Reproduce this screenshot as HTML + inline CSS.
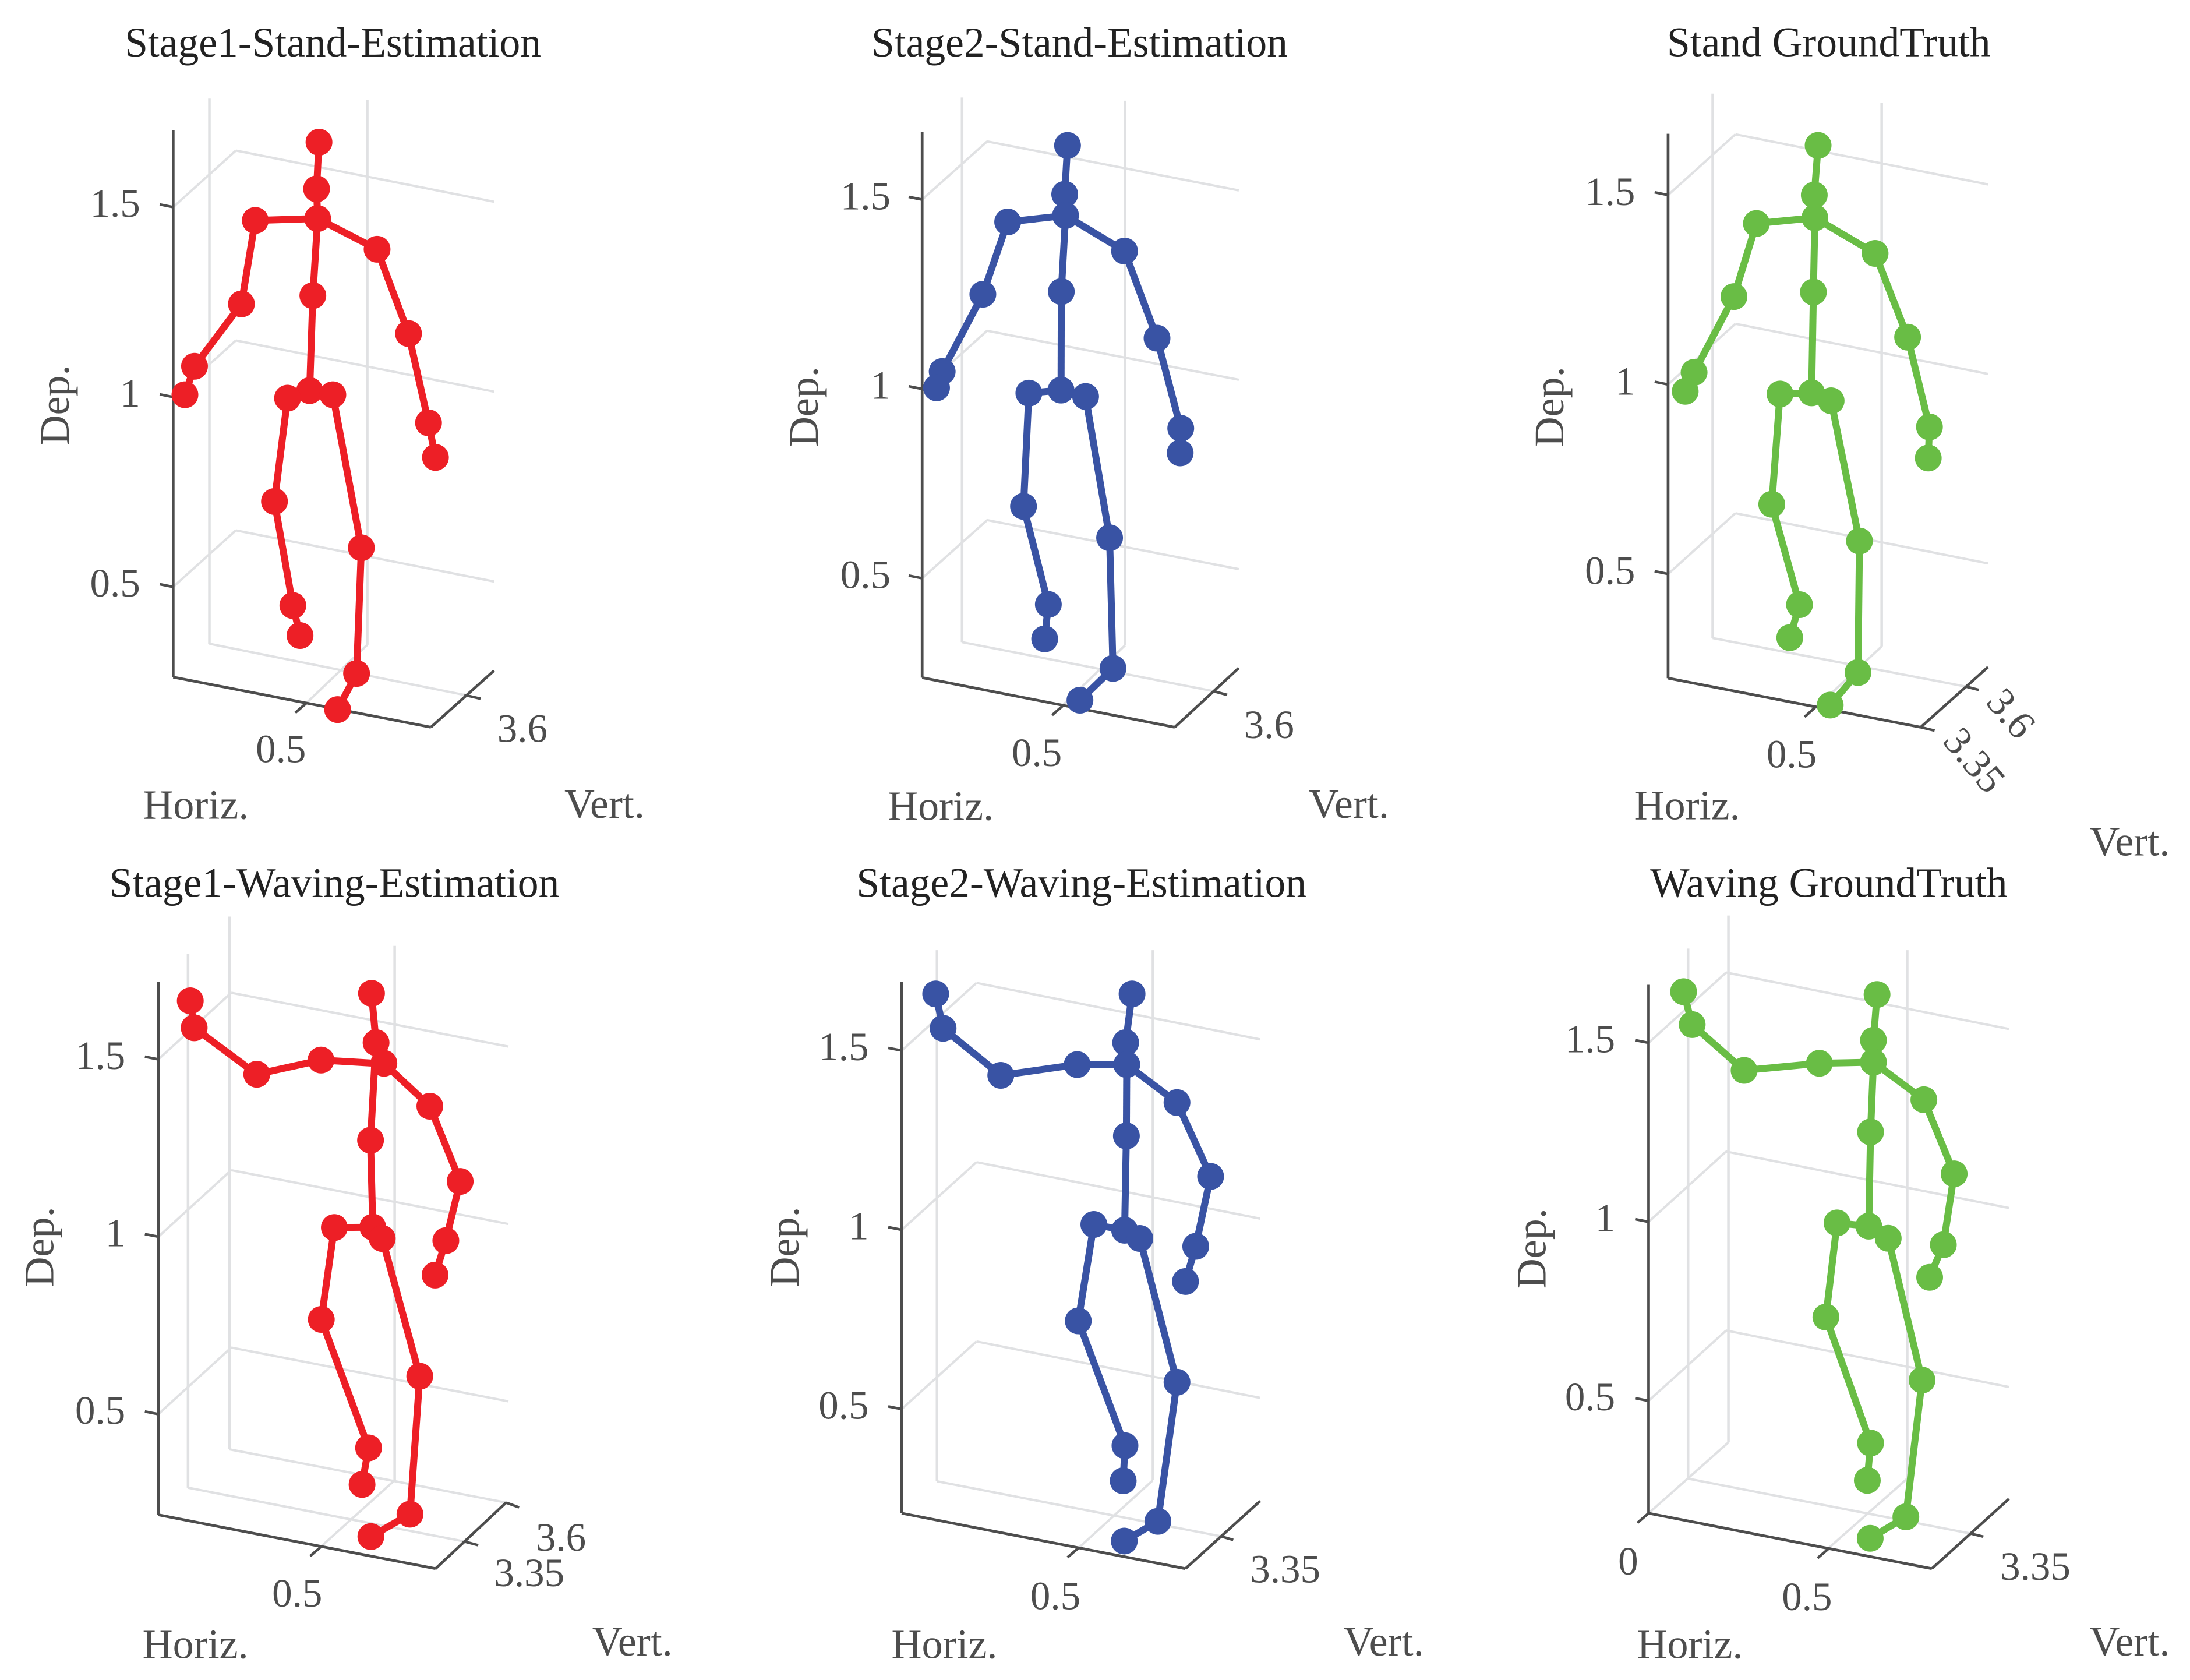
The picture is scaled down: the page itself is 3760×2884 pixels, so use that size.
<!DOCTYPE html>
<html lang="en">
<head>
<meta charset="utf-8">
<title>Skeleton pose estimation comparison</title>
<style>
html,body{margin:0;padding:0;background:#fff;}
svg{display:block;}
text{font-family:"Liberation Serif","Times New Roman",serif;}
</style>
</head>
<body>
<svg id="chart" xmlns="http://www.w3.org/2000/svg" width="3760" height="2884" viewBox="0 0 3760 2884"></svg>
<script>
// Joint order: head, neck, chest, spine, hip, L shoulder, L elbow, L wrist, L hand,
// R shoulder, R elbow, R wrist, R hand, L hip, L knee, L ankle, L foot, R hip, R knee, R ankle, R foot
const stage1StandHoriz = [.547,.538,.542,.524,.512,.308,.256,.080,.044,.765,.883,.958,.984,.429,.380,.449,.476,.599,.706,.688,.617];
const stage1StandDep = [1.671,1.548,1.470,1.267,1.017,1.465,1.245,1.081,1.006,1.389,1.167,.932,.841,.997,.725,.451,.372,1.006,.603,.272,.177];
const stage2StandHoriz = [.515,.505,.508,.493,.492,.303,.215,.071,.051,.717,.832,.916,.914,.378,.359,.447,.434,.579,.664,.676,.559];
const stage2StandDep = [1.643,1.514,1.458,1.257,.997,1.441,1.250,1.046,1.003,1.364,1.134,.896,.831,.989,.690,.431,.340,.980,.607,.262,.178];
const truthStandHoriz = [.508,.495,.497,.492,.486,.299,.223,.088,.058,.701,.811,.885,.881,.379,.351,.445,.412,.552,.648,.643,.549];
const truthStandDep = [1.631,1.500,1.440,1.244,.978,1.425,1.232,1.032,.982,1.346,1.125,.888,.806,.975,.684,.419,.332,.957,.587,.240,.154];
const stage1WavingHoriz = [.654,.668,.692,.651,.658,.499,.302,.110,.098,.833,.926,.882,.849,.540,.500,.645,.625,.687,.802,.772,.652];
const stage1WavingDep = [1.686,1.547,1.489,1.272,1.027,1.498,1.458,1.589,1.665,1.368,1.156,.989,.892,1.026,.767,.405,.302,.995,.607,.218,.155];
const stage2WavingHoriz = [.651,.633,.636,.635,.630,.496,.280,.117,.096,.778,.873,.831,.802,.543,.499,.631,.626,.673,.778,.724,.629];
const stage2WavingDep = [1.658,1.522,1.461,1.262,.999,1.461,1.431,1.562,1.658,1.355,1.149,.954,.856,1.015,.746,.398,.300,.976,.575,.187,.132];
const truthWavingHoriz = [.634,.624,.624,.616,.611,.474,.265,.121,.097,.764,.848,.818,.780,.523,.492,.616,.607,.665,.759,.714,.615];
const truthWavingDep = [1.635,1.507,1.446,1.251,.988,1.443,1.423,1.551,1.643,1.341,1.134,.936,.845,.997,.734,.382,.278,.954,.558,.176,.116];
// Stage1-Waving: left arm and spine meet at a point offset from the chest marker
const stage1WavingTorsoJoinHoriz = [.664];
const stage1WavingTorsoJoinDep = [1.489];
const boneFrom = [0,1,2,5,6,7,2,9,10,11,2,3,4,13,14,15,4,17,18,19];
const boneTo =   [1,2,5,6,7,8,9,10,11,12,3,4,13,14,15,16,17,18,19,20];
const depTicks = [0.5,1,1.5];
const depTickLabels = ['0.5','1','1.5'];

const RED='#ed1f26', BLUE='#3953a4', GREEN='#69bd45';
const SX=1568/1250;
const panels=[
{key:'stage1-stand',title:'Stage1-Stand-Estimation',color:RED,horiz:stage1StandHoriz,dep:stage1StandDep,
 cx:0,cy:0,sy:1568/1450,x0:373,kx:574,y1:737,ky:705,top:242,bottom:1257,right:[928,1350],vEnd:[1064,1245],
 back:[508,105,1064,10],depLabelX:302,titlePos:[717,105],
 verticals:[[451,183,1195],[791,185,1197]],floor:[[451,1195,1000,1290],[660,1305,791,1197]],
 hTicks:[0.5],hLabels:[[605,1415]],vTicks:[[1000,1290,1035,1297]],vLabels:[['3.6',1125,1377]],
 horizPos:[422,1520],vertPos:[1302,1518],depPos:[148,752]},
{key:'stage2-stand',title:'Stage2-Stand-Estimation',color:BLUE,horiz:stage2StandHoriz,dep:stage2StandDep,
 cx:1250,cy:0,sy:1568/1450,x0:418,kx:608,y1:722,ky:703,top:245,bottom:1258,right:[962,1350],vEnd:[1100,1240],
 back:[558,108,1100,17],depLabelX:350,titlePos:[757,105],
 verticals:[[504,181,1192],[855,187,1198]],floor:[[504,1192,1045,1283],[722,1308,855,1198]],
 hTicks:[0.5],hLabels:[[665,1422]],vTicks:[[1045,1283,1075,1290]],vLabels:[['3.6',1165,1370]],
 horizPos:[458,1522],vertPos:[1337,1518],depPos:[193,755]},
{key:'stand-ground-truth',title:'Stand GroundTruth',color:GREEN,horiz:truthStandHoriz,dep:truthStandDep,
 cx:2510,cy:0,sy:1568/1500,x0:444,kx:636,y1:690,ky:680,top:240,bottom:1217,right:[988,1305],vEnd:[1133,1197],
 back:[589,109,1133,19],depLabelX:373,titlePos:[790,101],
 verticals:[[540,168,1145],[904,185,1160]],floor:[[540,1145,1085,1232],[762,1270,904,1160]],
 hTicks:[0.5],hLabels:[[710,1377]],vTicks:[[1085,1232,1113,1238],[988,1305,1018,1311]],
 vLabels:[['3.6',1183,1280,50],['3.35',1104,1364,50]],
 horizPos:[485,1470],vertPos:[1438,1535],depPos:[218,730]},
{key:'stage1-waving',title:'Stage1-Waving-Estimation',color:RED,horiz:stage1WavingHoriz,dep:stage1WavingDep,
 joinHoriz:stage1WavingTorsoJoinHoriz,joinDep:stage1WavingTorsoJoinDep,
 cx:0,cy:1450,sy:1568/1434,x0:341,kx:702,y1:736,ky:666,top:258,bottom:1258,right:[938,1359],vEnd:[1090,1235],
 back:[498,125,1095,24],depLabelX:270,titlePos:[720,98],
 verticals:[[494,135,1135],[405,205,1207],[850,190,1193]],floor:[[494,1135,1090,1235],[405,1207,1000,1308],[692,1317,850,1193]],
 hTicks:[0.5],hLabels:[[640,1430]],vTicks:[[1090,1235,1118,1244],[1000,1308,1030,1315]],
 vLabels:[['3.6',1208,1325],['3.35',1140,1392]],
 horizPos:[421,1527],vertPos:[1362,1522],depPos:[115,755]},
{key:'stage2-waving',title:'Stage2-Waving-Estimation',color:BLUE,horiz:stage2WavingHoriz,dep:stage2WavingDep,
 cx:1250,cy:1450,sy:1568/1434,x0:374,kx:762,y1:723,ky:673,top:258,bottom:1255,right:[985,1359],vEnd:[1146,1232],
 back:[535,127,1146,21],depLabelX:303,titlePos:[761,98],
 verticals:[[450,198,1195],[915,198,1193]],floor:[[450,1195,1060,1298],[755,1320,915,1193]],
 hTicks:[0.5],hLabels:[[705,1435]],vTicks:[[1060,1298,1088,1305]],vLabels:[['3.35',1200,1385]],
 horizPos:[466,1527],vertPos:[1412,1522],depPos:[152,755]},
{key:'waving-ground-truth',title:'Waving GroundTruth',color:GREEN,horiz:truthWavingHoriz,dep:truthWavingDep,
 cx:2510,cy:1450,sy:1568/1434,x0:402,kx:776,y1:708,ky:672,top:263,bottom:1255,right:[1012,1359],vEnd:[1178,1228],
 back:[569,132,1178,26],depLabelX:330,titlePos:[790,98],
 verticals:[[574,133,1122],[487,195,1190],[959,198,1190]],floor:[[487,1190,1095,1293],[402,1255,574,1122],[790,1320,959,1190]],
 hTicks:[0,0.5],hLabels:[[358,1370],[743,1437]],vTicks:[[1095,1293,1123,1299]],vLabels:[['3.35',1235,1380]],
 horizPos:[491,1527],vertPos:[1438,1522],depPos:[180,758]}
];

const NS='http://www.w3.org/2000/svg';
const AXIS='#4d4d4d', GRID='#e0e1e3', TEXT='#4d4d4d', TITLE='#222222';
const TICK_FONT=69, LABEL_FONT=72, TITLE_FONT=71.5;
const svg=document.getElementById('chart');
function make(tag,attrs,parent){
  const el=document.createElementNS(NS,tag);
  for(const k in attrs){el.setAttribute(k,attrs[k]);}
  parent.appendChild(el);
  return el;
}
panels.forEach(function(p){
  const px=function(x){return p.cx+x/SX;};
  const py=function(y){return p.cy+y/p.sy;};
  const xScale=function(h){return p.x0+h*p.kx;};
  const yScale=function(d){return p.y1-(d-1)*p.ky;};

  const g=make('g',{},svg);
  
  

  function seg(parent,x1,y1,x2,y2,color,w,name){
    const l=make('line',{x1:px(x1),y1:py(y1),x2:px(x2),y2:py(y2),stroke:color,'stroke-width':w},parent);
    
    
    return l;
  }
  function label(str,x,y,size,anchor,color,name,rot,central){
    const t=make('text',{x:px(x),y:py(y),'font-size':size,'text-anchor':anchor,fill:color},g);
    if(rot){t.setAttribute('transform','rotate('+rot+' '+px(x)+' '+py(y)+')');}
    if(central){t.setAttribute('dominant-baseline','central');}
    t.textContent=str;
    
    
    return t;
  }

  // grid
  const grid=make('g',{fill:'none'},g);
  
  
  p.verticals.forEach(function(v){seg(grid,v[0],v[1],v[0],v[2],GRID,4.5,'grid-vertical');});
  p.floor.forEach(function(f){seg(grid,f[0],f[1],f[2],f[3],GRID,4,'grid-floor');});
  depTicks.forEach(function(d){
    const y=yScale(d);
    seg(grid,p.x0,y,p.back[0],y-p.back[1],GRID,4,'grid-side');
    seg(grid,p.back[0],y-p.back[1],p.back[2],y-p.back[3],GRID,4,'grid-back');
  });

  // axes
  const axes=make('g',{},g);
  
  
  seg(axes,p.x0,p.top,p.x0,p.bottom,AXIS,4.7,'depth-axis');
  seg(axes,p.x0,p.bottom,p.right[0],p.right[1],AXIS,4.7,'horizontal-axis');
  seg(axes,p.right[0],p.right[1],p.vEnd[0],p.vEnd[1],AXIS,4.7,'vertical-axis');
  depTicks.forEach(function(d,i){
    const y=yScale(d);
    seg(axes,p.x0,y,p.x0-29,y-5,AXIS,4.5,'depth-tick');
    label(depTickLabels[i],p.depLabelX,y+18,TICK_FONT,'end',TEXT,'depth-tick-label');
  });
  const slope=(p.right[1]-p.bottom)/(p.right[0]-p.x0);
  p.hTicks.forEach(function(h,i){
    const x=xScale(h), y=p.bottom+(x-p.x0)*slope;
    seg(axes,x,y,x-24,y+18,AXIS,4.5,'horizontal-tick');
    label(String(h),p.hLabels[i][0],p.hLabels[i][1],TICK_FONT,'middle',TEXT,'horizontal-tick-label');
  });
  p.vTicks.forEach(function(v){seg(axes,v[0],v[1],v[2],v[3],AXIS,4.5,'vertical-tick');});
  p.vLabels.forEach(function(v){
    label(v[0],v[1],v[2],TICK_FONT,'middle',TEXT,'vertical-tick-label',v[3]||0,!!v[3]);
  });

  // axis titles and panel title
  label(p.title,p.titlePos[0],p.titlePos[1],TITLE_FONT,'middle',TITLE,'panel-title');
  label('Horiz.',p.horizPos[0],p.horizPos[1],LABEL_FONT,'middle',TEXT,'horizontal-axis-title');
  label('Vert.',p.vertPos[0],p.vertPos[1],LABEL_FONT,'middle',TEXT,'vertical-axis-title');
  label('Dep.',p.depPos[0],p.depPos[1],LABEL_FONT,'middle',TEXT,'depth-axis-title',-90);

  // skeleton
  const sk=make('g',{},g);
  
  
  boneFrom.forEach(function(a,i){
    const b=boneTo[i];
    let ax=p.horiz[a], ay=p.dep[a];
    if(p.joinHoriz && a===2 && (b===5 || b===3)){
      ax=p.joinHoriz[0];
      ay=p.joinDep[0];
    }
    const l=make('line',{x1:px(xScale(ax)),y1:py(yScale(ay)),x2:px(xScale(p.horiz[b])),y2:py(yScale(p.dep[b])),stroke:p.color,'stroke-width':12},sk);
    
    
  });
  p.horiz.forEach(function(h,i){
    const c=make('circle',{cx:px(xScale(h)),cy:py(yScale(p.dep[i])),r:23,fill:p.color},sk);
    
    
  });
});
</script>
</body>
</html>
